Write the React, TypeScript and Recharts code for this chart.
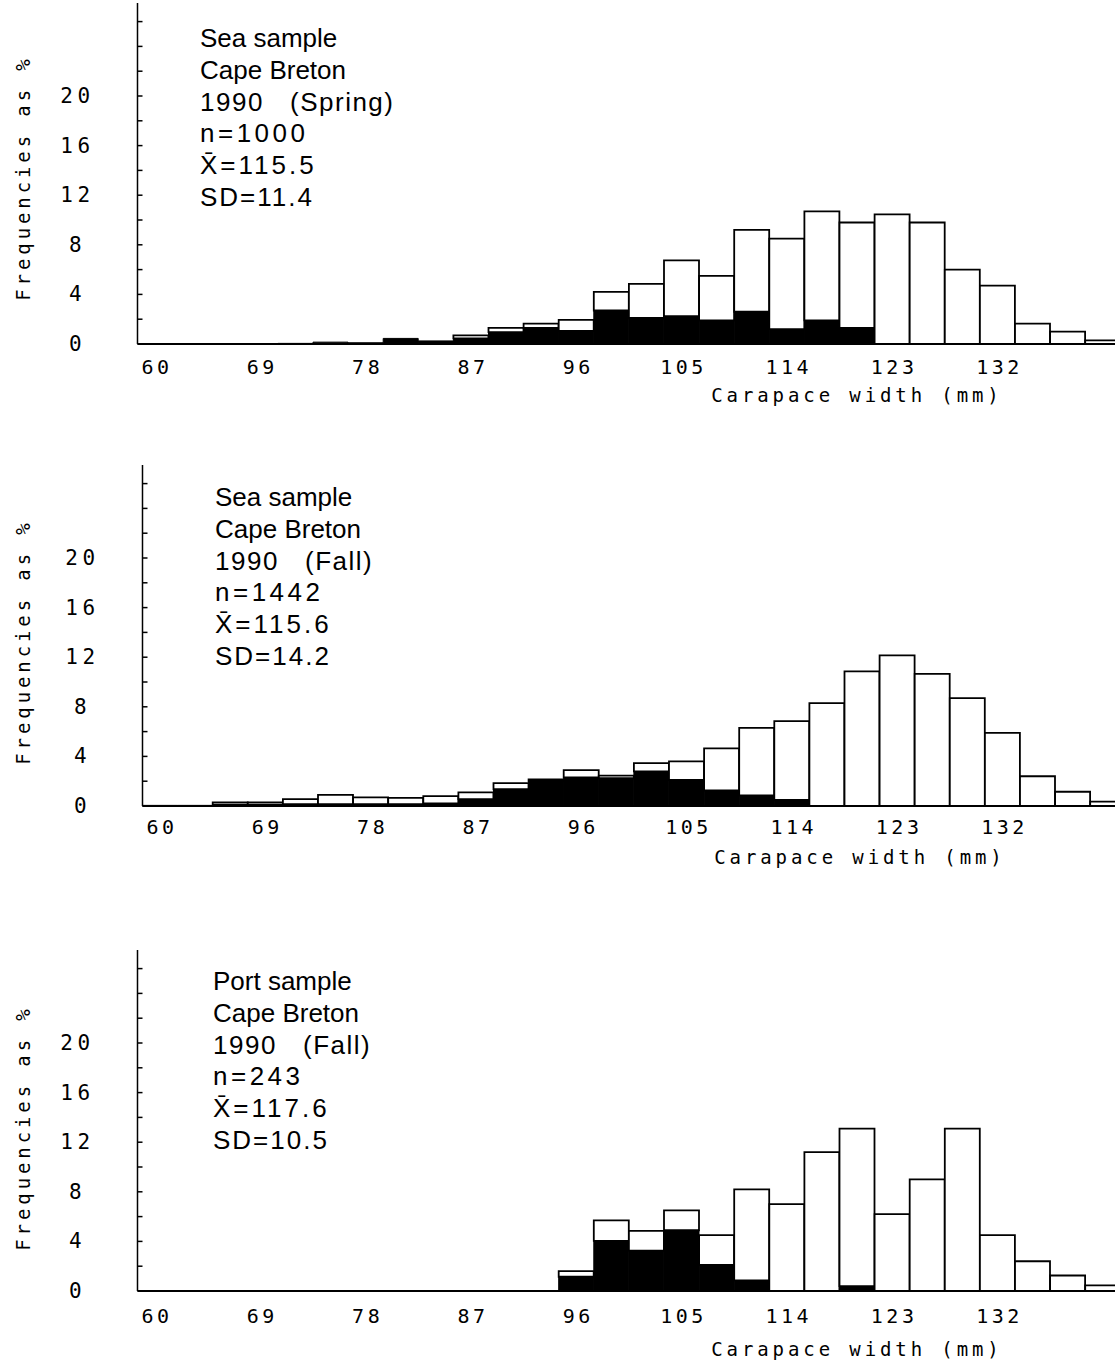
import React from 'react';
import { BarChart, Bar, XAxis, YAxis } from 'recharts';

// bins of 3 mm carapace width, labelled by their centre
const bins = [60, 63, 66, 69, 72, 75, 78, 81, 84, 87, 90, 93, 96, 99, 102, 105, 108, 111, 114, 117, 120, 123, 126, 129, 132, 135, 138, 141];
const labelledBins = [60, 69, 78, 87, 96, 105, 114, 123, 132];
const yTicks = [0, 2, 4, 6, 8, 10, 12, 14, 16, 18, 20, 22, 24, 26];
const yLabelled = [0, 4, 8, 12, 16, 20];

// Sea sample, spring 1990 (% of crabs, whole bar / black part)
const springTotal = [0, 0, 0, 0, 0.05, 0.15, 0.1, 0.45, 0.25, 0.7, 1.3, 1.65, 1.95, 4.2, 4.85, 6.75, 5.5, 9.2, 8.5, 10.7, 9.8, 10.45, 9.8, 6.0, 4.7, 1.65, 1.0, 0.3];
const springBlack = [0, 0, 0, 0, 0.05, 0.15, 0.1, 0.45, 0.25, 0.45, 0.95, 1.3, 1.05, 2.7, 2.1, 2.25, 1.9, 2.6, 1.2, 1.9, 1.3, 0, 0, 0, 0, 0, 0, 0];

// Sea sample, fall 1990
const seaFallTotal = [0.05, 0.05, 0.3, 0.3, 0.55, 0.9, 0.7, 0.65, 0.8, 1.1, 1.85, 2.15, 2.9, 2.45, 3.45, 3.6, 4.65, 6.3, 6.85, 8.3, 10.85, 12.15, 10.65, 8.7, 5.9, 2.4, 1.15, 0.35];
const seaFallBlack = [0.05, 0.05, 0.1, 0.1, 0.15, 0.15, 0.15, 0.15, 0.2, 0.55, 1.35, 2.0, 2.3, 2.25, 2.8, 2.1, 1.25, 0.85, 0.5, 0, 0, 0, 0, 0, 0, 0, 0, 0];

// Port sample, fall 1990
const portTotal = [0, 0, 0, 0, 0, 0, 0, 0, 0, 0, 0, 0, 1.6, 5.7, 4.85, 6.5, 4.5, 8.2, 7.0, 11.2, 13.1, 6.2, 9.0, 13.1, 4.5, 2.4, 1.25, 0.45];
const portBlack = [0, 0, 0, 0, 0, 0, 0, 0, 0, 0, 0, 0, 1.15, 4.05, 3.25, 4.9, 2.1, 0.85, 0, 0, 0.4, 0, 0, 0, 0, 0, 0, 0];

const springNotes = ['Sea sample', 'Cape Breton', '1990   (Spring)', 'n=1000', 'X\u0304=115.5', 'SD=11.4'];
const seaFallNotes = ['Sea sample', 'Cape Breton', '1990   (Fall)', 'n=1442', 'X\u0304=115.6', 'SD=14.2'];
const portNotes = ['Port sample', 'Cape Breton', '1990   (Fall)', 'n=243', 'X\u0304=117.6', 'SD=10.5'];
const noteSpacing = [0, 0, 1.5, 3.5, 3, 2];

const MONO = '"DejaVu Sans Mono", monospace';
const SANS = '"Liberation Sans", Arial, sans-serif';
const BIN_PX = 35.1;

interface PanelProps {
  total: number[];
  black: number[];
  notes: string[];
  top: number;
  height: number;
  axisX: number;
  plotTop: number;
  baseline: number;
  labelDy: number;
  noteX: number;
  noteY: number;
  titleX: number;
  titleY: number;
  yTitleY: number;
}

const Panel: React.FC<PanelProps> = (p) => {
  const data = bins.map((b, i) => ({ bin: b, black: p.black[i], white: +(p.total[i] - p.black[i]).toFixed(2) }));
  const width = p.axisX + BIN_PX * bins.length;

  const XTick = (props: any) => {
    const { x, y, payload } = props;
    if (!labelledBins.includes(payload.value)) return null;
    return (
      <text x={x + 2} y={y + p.labelDy} textAnchor="middle" dominantBaseline="central"
        fontFamily={MONO} fontSize={20} style={{ letterSpacing: '3.5px' }} fill="#000">
        {payload.value}
      </text>
    );
  };

  const YTick = (props: any) => {
    const { x, y, payload } = props;
    return (
      <g>
        <line x1={x} x2={x + 5} y1={y} y2={y} stroke="#000" strokeWidth={1.5} />
        {yLabelled.includes(payload.value) && (
          <text x={x - 60} y={y} textAnchor="middle" dominantBaseline="central"
            fontFamily={MONO} fontSize={21} style={{ letterSpacing: '4.5px' }} fill="#000">
            {payload.value}
          </text>
        )}
      </g>
    );
  };

  return (
    <div style={{ position: 'absolute', left: 0, top: p.top, width, height: p.height }}>
      <BarChart width={width} height={p.height} data={data} barCategoryGap={0} barGap={0}
        margin={{ top: p.plotTop - p.top, right: 0, left: 0, bottom: 0 }}>
        <XAxis dataKey="bin" type="category" interval={0} tick={<XTick />} tickLine={false}
          tickSize={0} tickMargin={0} height={p.top + p.height - p.baseline}
          axisLine={{ stroke: '#000', strokeWidth: 2 }} />
        <YAxis type="number" domain={[0, 27.5]} ticks={yTicks} tick={<YTick />} tickLine={false}
          tickSize={0} tickMargin={0} width={p.axisX} interval={0}
          axisLine={{ stroke: '#000', strokeWidth: 1.5 }} />
        <Bar dataKey="black" stackId="a" fill="#000" stroke="#000" strokeWidth={1} isAnimationActive={false} />
        <Bar dataKey="white" stackId="a" fill="#fff" stroke="#000" strokeWidth={1.8} isAnimationActive={false} />
      </BarChart>
      <svg width={width} height={p.height} style={{ position: 'absolute', left: 0, top: 0, pointerEvents: 'none' }}>
        {p.notes.map((t, i) => (
          <text key={t} x={p.noteX} y={p.noteY - p.top + i * 31.8} fontFamily={SANS} fontSize={26} fill="#000"
            style={{ whiteSpace: 'pre', letterSpacing: `${noteSpacing[i]}px` }}>
            {t}
          </text>
        ))}
        <text x={p.titleX} y={p.titleY - p.top} textAnchor="middle" dominantBaseline="central"
          fontFamily={MONO} fontSize={19} style={{ letterSpacing: '3.9px' }} fill="#000">
          Carapace width (mm)
        </text>
        <text x={23} y={p.yTitleY - p.top} transform={`rotate(-90 23 ${p.yTitleY - p.top})`} textAnchor="middle"
          dominantBaseline="central" fontFamily={MONO} fontSize={19} style={{ letterSpacing: '3.9px' }} fill="#000">
          Frequencies as %
        </text>
      </svg>
    </div>
  );
};

export default function App() {
  return (
    <div style={{ position: 'absolute', left: 0, top: 0, width: 1115, height: 1363, overflow: 'hidden', background: '#fff' }}>
      <Panel total={springTotal} black={springBlack} notes={springNotes} top={0} height={440}
        axisX={137.5} plotTop={3} baseline={344} labelDy={23} noteX={200} noteY={47}
        titleX={857} titleY={395} yTitleY={178} />
      <Panel total={seaFallTotal} black={seaFallBlack} notes={seaFallNotes} top={440} height={440}
        axisX={142.5} plotTop={465} baseline={806} labelDy={21} noteX={215} noteY={506}
        titleX={860} titleY={857} yTitleY={642} />
      <Panel total={portTotal} black={portBlack} notes={portNotes} top={880} height={483}
        axisX={137.5} plotTop={950} baseline={1291} labelDy={25} noteX={213} noteY={990}
        titleX={857} titleY={1349} yTitleY={1128} />
    </div>
  );
}
